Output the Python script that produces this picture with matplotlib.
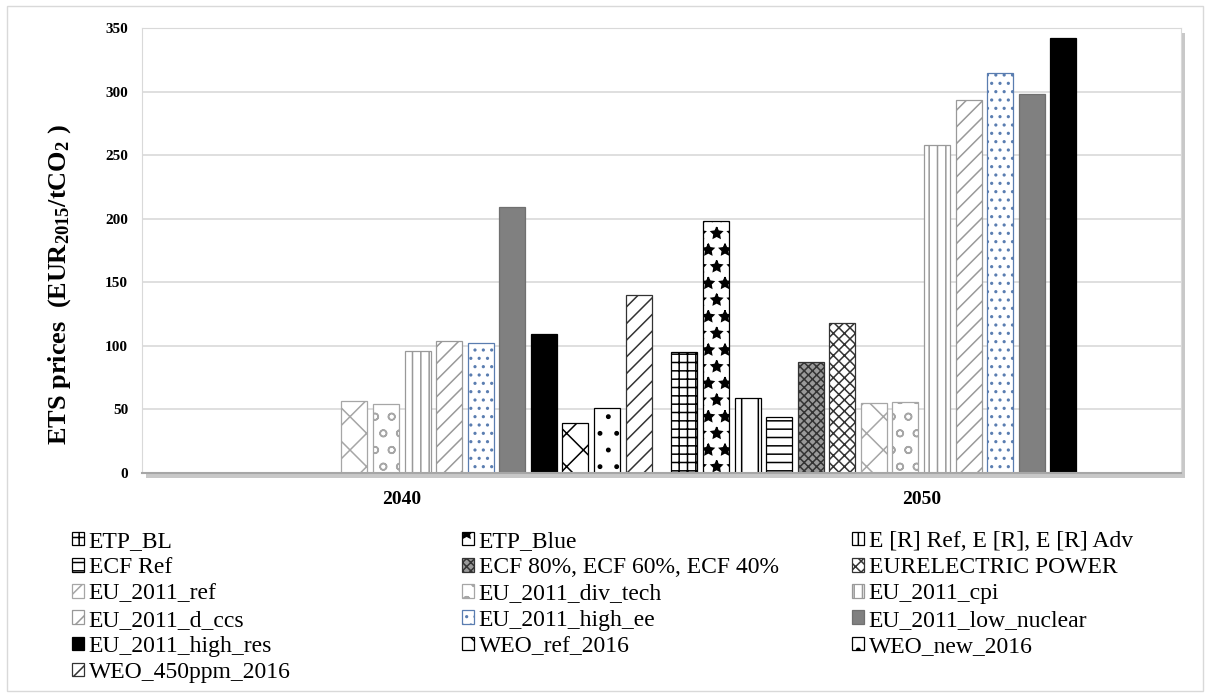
import numpy as np
import matplotlib
matplotlib.use("Agg")
import matplotlib.pyplot as plt
from matplotlib.patches import Rectangle

plt.rcParams['font.family'] = ['Liberation Serif', 'DejaVu Serif']
plt.rcParams['mathtext.fontset'] = 'custom'
plt.rcParams['mathtext.rm'] = 'Liberation Serif:bold'
plt.rcParams['mathtext.bf'] = 'Liberation Serif:bold'
plt.rcParams['mathtext.default'] = 'bf'
plt.rcParams['hatch.linewidth'] = 1.1

categories = ["2040", "2050"]
series = ["ETP_BL", "ETP_Blue", "E [R] Ref, E [R], E [R] Adv", "ECF Ref",
          "ECF 80%, ECF 60%, ECF 40%", "EURELECTRIC POWER", "EU_2011_ref",
          "EU_2011_div_tech", "EU_2011_cpi", "EU_2011_d_ccs", "EU_2011_high_ee",
          "EU_2011_low_nuclear", "EU_2011_high_res", "WEO_ref_2016",
          "WEO_new_2016", "WEO_450ppm_2016"]
nan = np.nan
values_2040 = [nan, nan, nan, nan, nan, nan, 57, 54, 96, 104, 102, 209, 109, 39, 51, 140]
values_2050 = [95, 198, 59, 44, 87, 118, 55, 56, 258, 293, 315, 298, 342, nan, nan, nan]

# face, hatch/edge colour, hatch
styles = [
    ("white", "black", "++"),
    ("white", "black", "*"),
    ("white", "black", "|"),
    ("white", "black", "--"),
    ("#9a9a9a", "#333333", "xxxx"),
    ("white", "#333333", "xxx"),
    ("white", "#a6a6a6", "x"),
    ("white", "#a6a6a6", "o"),
    ("white", "#999999", "||"),
    ("white", "#999999", "//"),
    ("white", "#5a7db0", ".."),
    ("#808080", "#707070", None),
    ("black", "black", None),
    ("white", "black", "x"),
    ("white", "black", "."),
    ("white", "#333333", "//"),
]

fig = plt.figure(figsize=(12.1, 6.98), dpi=100)
ax = fig.add_axes([142/1210, 1-473/698, 1039/1210, 445/698])

# chart border and plot-area shadow
fig.patches.append(Rectangle((7/1210, 7/698), 1196/1210, 685/698, transform=fig.transFigure,
                             fill=False, edgecolor="#d9d9d9", linewidth=1.0, zorder=-2))
fig.patches.append(Rectangle((146/1210, 1-478/698), 1039/1210, 445/698, transform=fig.transFigure,
                             facecolor="#c8c8c8", edgecolor="none", zorder=-1))

x = np.arange(len(categories))
slot = 0.0608
width = 0.05
handles = []
for i, name in enumerate(series):
    face, hc, hatch = styles[i]
    vals = [values_2040[i], values_2050[i]]
    b = ax.bar(x + (i - 7.5) * slot, vals, width, color=face, edgecolor=hc,
               hatch=hatch, linewidth=0.9, zorder=3, label=name)
    handles.append(b)

ax.set_xlim(-0.5, 1.5)
ax.set_ylim(0, 350)
ax.set_yticks(range(0, 351, 50))
ax.set_xticks(x)
ax.set_xticklabels(categories, fontsize=14, fontweight="bold")
ax.tick_params(axis="y", length=0, pad=10, labelsize=11)
ax.tick_params(axis="x", length=0, pad=13)
for lab in ax.get_yticklabels():
    lab.set_fontweight("bold")
ax.grid(axis="y", color="#d9d9d9", linewidth=1.2, zorder=0)
for s in ["left", "right", "top"]:
    ax.spines[s].set_color("#d9d9d9")
ax.spines["bottom"].set_color("#a6a6a6")
ax.spines["bottom"].set_linewidth(1.5)
ax.spines["bottom"].set_zorder(4)

fig.text(60/1210, 1-285/698, r"ETS prices  (EUR$_{2015}$/tCO$_{2}$ )",
         rotation=90, ha="center", va="center", fontsize=19, fontweight="bold")

# legend laid out row-wise as in the source, three columns
cols = [[0, 3, 6, 9, 12, 15], [1, 4, 7, 10, 13], [2, 5, 8, 11, 14]]
col_x = [72/1210, 462/1210, 852/1210]
for cx, idx in zip(col_x, cols):
    fig.legend([handles[k] for k in idx], [series[k] for k in idx],
               loc="upper left", bbox_to_anchor=(cx, 1-531/698), frameon=False,
               fontsize=17, handlelength=0.5, handleheight=0.5, handletextpad=0.2,
               labelspacing=0.22, borderpad=0, borderaxespad=0)

fig.savefig("out.png", dpi=100)
